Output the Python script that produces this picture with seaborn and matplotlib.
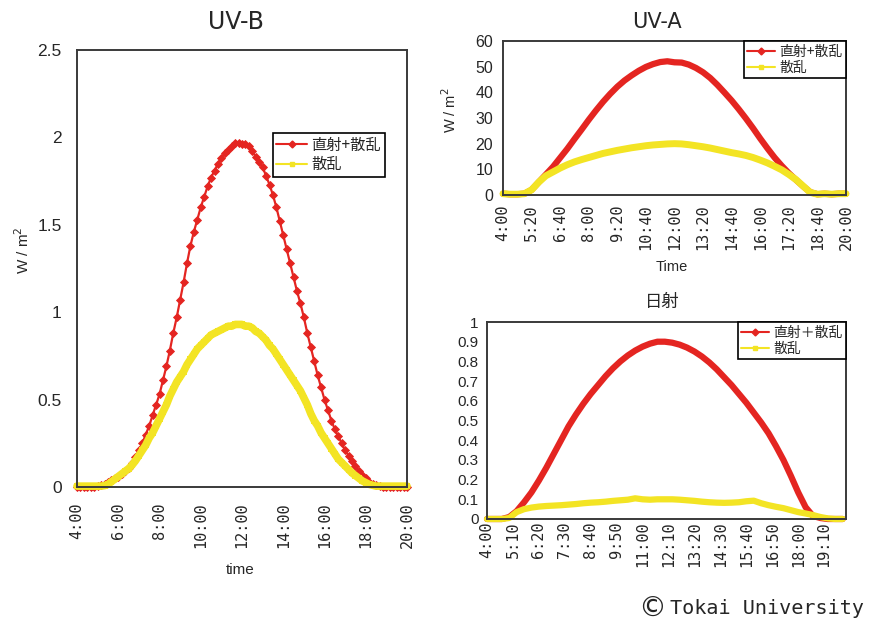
import numpy as np
import matplotlib
matplotlib.use("Agg")
import matplotlib.pyplot as plt
import seaborn as sns
from matplotlib.lines import Line2D

# ---------------------------------------------------------------------------
# Measurement grids (minutes after midnight, 4:00 - 20:00)
# ---------------------------------------------------------------------------
uvb_minutes = np.arange(240, 1201, 10)
uva_minutes = np.arange(240, 1201, 20)
solar_minutes = np.arange(240, 1201, 20)

# UV-B irradiance, W/m2 (10-minute readings)
uvb_total = [
    0.00, 0.00, 0.00, 0.00, 0.00, 0.00,          # 4:00 -
    0.005, 0.01, 0.02, 0.03, 0.04, 0.05,         # 5:00 -
    0.06, 0.075, 0.09, 0.11, 0.14, 0.17,         # 6:00 -
    0.21, 0.25, 0.30, 0.35, 0.41, 0.47,          # 7:00 -
    0.53, 0.61, 0.69, 0.78, 0.88, 0.97,          # 8:00 -
    1.07, 1.17, 1.28, 1.38, 1.46, 1.53,          # 9:00 -
    1.60, 1.66, 1.72, 1.77, 1.81, 1.85,          # 10:00 -
    1.88, 1.91, 1.93, 1.95, 1.97, 1.97,          # 11:00 -
    1.96, 1.96, 1.95, 1.92, 1.89, 1.86,          # 12:00 -
    1.83, 1.78, 1.73, 1.67, 1.60, 1.52,          # 13:00 -
    1.44, 1.36, 1.28, 1.20, 1.12, 1.05,          # 14:00 -
    0.97, 0.88, 0.80, 0.72, 0.64, 0.57,          # 15:00 -
    0.50, 0.44, 0.38, 0.33, 0.29, 0.25,          # 16:00 -
    0.21, 0.18, 0.15, 0.12, 0.09, 0.07,          # 17:00 -
    0.05, 0.03, 0.02, 0.01, 0.005, 0.00,         # 18:00 -
    0.00, 0.00, 0.00, 0.00, 0.00, 0.00,          # 19:00 -
    0.00,                                        # 20:00
]
uvb_diffuse = [
    0.005, 0.005, 0.005, 0.005, 0.005, 0.005,
    0.005, 0.005, 0.008, 0.015, 0.03, 0.045,
    0.06, 0.075, 0.09, 0.105, 0.125, 0.15,
    0.18, 0.21, 0.24, 0.28, 0.31, 0.35,
    0.39, 0.43, 0.47, 0.52, 0.56, 0.60,
    0.63, 0.66, 0.70, 0.73, 0.76, 0.79,
    0.81, 0.83, 0.85, 0.87, 0.88, 0.89,
    0.90, 0.91, 0.92, 0.92, 0.93, 0.93,
    0.93, 0.92, 0.92, 0.91, 0.89, 0.88,
    0.86, 0.84, 0.81, 0.79, 0.76, 0.73,
    0.70, 0.67, 0.64, 0.61, 0.58, 0.55,
    0.51, 0.47, 0.42, 0.38, 0.35, 0.31,
    0.28, 0.25, 0.22, 0.19, 0.16, 0.14,
    0.12, 0.10, 0.08, 0.065, 0.05, 0.035,
    0.025, 0.015, 0.01, 0.005, 0.005, 0.005,
    0.005, 0.005, 0.005, 0.005, 0.005, 0.005,
    0.005,
]

# UV-A irradiance, W/m2 (20-minute readings)
uva_total = [
    0.5, 0.3, 0.3,
    0.5, 2.0, 5.0,
    8.0, 11.0, 14.5,
    18.0, 21.8, 25.5,
    29.3, 32.9, 36.3,
    39.4, 42.2, 44.6,
    46.6, 48.4, 49.9,
    51.0, 51.8, 52.1,
    51.7, 51.6, 50.8,
    49.5, 47.8, 45.6,
    42.9, 39.9, 36.8,
    33.4, 29.8, 26.0,
    22.0, 18.2, 14.6,
    11.4, 8.5, 5.9,
    3.4, 1.1, 0.3,
    0.5, 0.3, 0.5,
    0.5,
]
uva_diffuse = [
    0.5, 0.3, 0.3,
    0.5, 2.0, 5.0,
    7.5, 9.0, 10.5,
    11.8, 12.9, 13.8,
    14.6, 15.4, 16.2,
    16.8, 17.4, 17.9,
    18.4, 18.8, 19.2,
    19.5, 19.7, 19.9,
    20.0, 19.9, 19.6,
    19.2, 18.8, 18.3,
    17.7, 17.1, 16.5,
    16.0, 15.4, 14.6,
    13.6, 12.5, 11.2,
    9.8, 8.0, 6.0,
    3.5, 1.0, 0.3,
    0.5, 0.3, 0.5,
    0.5,
]

# Solar radiation (20-minute readings)
solar_total = [
    0.0, 0.0, 0.0,
    0.01, 0.04, 0.085,
    0.135, 0.195, 0.26,
    0.33, 0.40, 0.47,
    0.53, 0.585, 0.635,
    0.68, 0.725, 0.765,
    0.80, 0.83, 0.855,
    0.875, 0.89, 0.90,
    0.90, 0.895, 0.885,
    0.87, 0.85, 0.825,
    0.795, 0.76, 0.72,
    0.68, 0.635, 0.59,
    0.54, 0.49, 0.435,
    0.37, 0.30, 0.22,
    0.135, 0.06, 0.015,
    0.005, 0.0, 0.0,
    0.0,
]
solar_diffuse = [
    0.0, 0.0, 0.0,
    0.005, 0.035, 0.05,
    0.058, 0.063, 0.066,
    0.068, 0.070, 0.073,
    0.076, 0.080, 0.083,
    0.085, 0.088, 0.092,
    0.095, 0.098, 0.105,
    0.100, 0.098, 0.100,
    0.100, 0.100, 0.098,
    0.095, 0.092, 0.088,
    0.085, 0.083, 0.082,
    0.083, 0.085, 0.090,
    0.093, 0.080, 0.070,
    0.062, 0.055, 0.045,
    0.035, 0.028, 0.020,
    0.010, 0.003, 0.0,
    0.0,
]

# Tick positions (minutes) and axis ranges
uvb_ticks = np.arange(240, 1201, 120)
uva_ticks = np.arange(240, 1201, 80)
solar_ticks = np.arange(240, 1151, 70)
uvb_yticks = [0, 0.5, 1, 1.5, 2, 2.5]
uva_yticks = [0, 10, 20, 30, 40, 50, 60]
solar_yticks = [0, 0.1, 0.2, 0.3, 0.4, 0.5, 0.6, 0.7, 0.8, 0.9, 1]

label_total = "直射+散乱"
label_total_wide = "直射＋散乱"
label_diffuse = "散乱"

RED = "#e42521"
YELLOW = "#f3e424"
SPINE = "#3a3a3a"

sns.set_style("white")
plt.rcParams["font.family"] = ["Liberation Sans", "Noto Sans CJK JP", "DejaVu Sans"]

W, H = 872, 623
fig = plt.figure(figsize=(W / 100, H / 100), dpi=100)


def axes_px(left, top, right, bottom):
    return fig.add_axes([left / W, 1 - bottom / H, (right - left) / W, (bottom - top) / H])


def hm(m):
    return f"{int(m) // 60}:{int(m) % 60:02d}"


def style_axes(ax, xticks, xlim, yticks, ylim, yfmt, ysize, ypad, xpad):
    ax.set_xlim(*xlim)
    ax.set_ylim(*ylim)
    ax.set_xticks(xticks)
    ax.set_xticklabels([hm(t) for t in xticks], rotation=90,
                       fontfamily="DejaVu Sans Mono", fontsize=11)
    ax.set_yticks(yticks)
    ax.set_yticklabels([yfmt(v) for v in yticks], fontsize=ysize)
    ax.tick_params(axis="both", direction="in", length=4, width=1, color=SPINE)
    ax.tick_params(axis="y", pad=ypad)
    ax.tick_params(axis="x", pad=xpad)
    for s in ax.spines.values():
        s.set_visible(True)
        s.set_color(SPINE)
        s.set_linewidth(1.4)
    ax.set_xlabel("")
    ax.set_ylabel("")


def legend_handles(total_lbl):
    return [
        Line2D([], [], color=RED, lw=1.5, marker="D", markersize=3.5),
        Line2D([], [], color=YELLOW, lw=1.5, marker="s", markersize=3.5),
    ], [total_lbl, label_diffuse]


def add_legend(ax, total_lbl, anchor, size):
    h, l = legend_handles(total_lbl)
    leg = ax.legend(h, l, loc="upper right", bbox_to_anchor=anchor, borderaxespad=0,
                    frameon=True, fancybox=False, framealpha=1, edgecolor="black",
                    prop={"family": ["Noto Sans CJK JP"], "size": size},
                    handlelength=2.0, handletextpad=0.3, borderpad=0.25,
                    labelspacing=0.15)
    leg.get_frame().set_linewidth(1.2)


# ---------------------------- UV-B ----------------------------------------
ax1 = axes_px(77, 50, 407, 487)
sns.lineplot(x=uvb_minutes, y=uvb_total, ax=ax1, color=RED, lw=1.6, marker="D",
             markersize=3.8, markeredgewidth=0.6, markeredgecolor=RED, clip_on=False)
sns.lineplot(x=uvb_minutes, y=uvb_diffuse, ax=ax1, color=YELLOW, lw=5.5, marker="s",
             markersize=4.5, markeredgewidth=0, clip_on=False)
style_axes(ax1, uvb_ticks, (240, 1200), uvb_yticks, (0, 2.5),
           lambda v: f"{v:g}", 12.5, 11, 11)
add_legend(ax1, label_total, ((385 - 77) / 330, (487 - 133) / 437), 11)
ax1.text(-0.165, 0.542, "W / m$^2$", transform=ax1.transAxes, rotation=90,
         ha="center", va="center", fontsize=11)
ax1.text(0.494, -0.19, "time", transform=ax1.transAxes, ha="center", va="center",
         fontsize=11)
fig.text(236 / W, 1 - 22 / H, "UV-B", ha="center", va="center", fontsize=17,
         fontfamily="DejaVu Sans")

# ---------------------------- UV-A ----------------------------------------
ax2 = axes_px(503, 41, 846, 195)
sns.lineplot(x=uva_minutes, y=uva_total, ax=ax2, color=RED, lw=4.5, clip_on=False)
sns.lineplot(x=uva_minutes, y=uva_diffuse, ax=ax2, color=YELLOW, lw=5, clip_on=False)
style_axes(ax2, uva_ticks, (240, 1200), uva_yticks, (0, 60),
           lambda v: f"{v:g}", 11.5, 7, 7)
add_legend(ax2, label_total, (1, 1), 10)
ax2.text(-0.155, 0.55, "W / m$^2$", transform=ax2.transAxes, rotation=90,
         ha="center", va="center", fontsize=10.5)
ax2.text(0.493, -0.47, "Time", transform=ax2.transAxes, ha="center", va="center",
         fontsize=10.5)
fig.text(657 / W, 1 - 22 / H, "UV-A", ha="center", va="center", fontsize=15,
         fontfamily="DejaVu Sans")

# ---------------------------- 日射 -----------------------------------------
ax3 = axes_px(487, 322, 846, 519)
sns.lineplot(x=solar_minutes, y=solar_total, ax=ax3, color=RED, lw=4.5, clip_on=False)
sns.lineplot(x=solar_minutes, y=solar_diffuse, ax=ax3, color=YELLOW, lw=4.5, clip_on=False)
style_axes(ax3, solar_ticks, (240, 1209), solar_yticks, (0, 1),
           lambda v: f"{v:g}", 11, 6, 2)
add_legend(ax3, label_total_wide, (1, 1), 10)
fig.text(662 / W, 1 - 302 / H, "日射", ha="center", va="center", fontsize=12.5,
         fontfamily=["Noto Sans CJK JP"])

# ---------------------------- credit --------------------------------------
fig.text(652 / W, 1 - 609 / H, "©", ha="center", va="center", fontsize=20,
         fontfamily="DejaVu Sans")
fig.text(670 / W, 1 - 609 / H, "Tokai University", ha="left", va="center",
         fontsize=14.5, fontfamily="DejaVu Sans Mono")

fig.savefig("out.png", dpi=100)
